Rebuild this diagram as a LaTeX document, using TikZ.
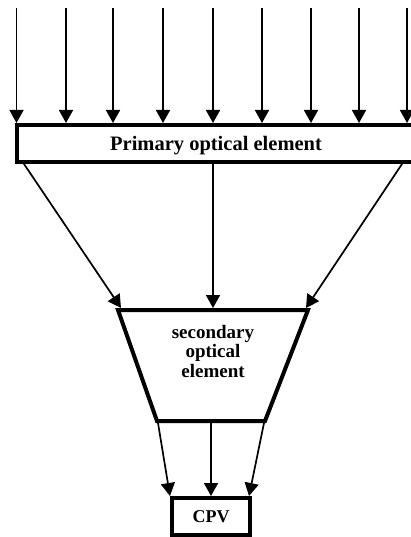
\documentclass[tikz,border=0pt]{standalone}
\usepackage{fontspec}
\setmainfont{Liberation Serif}
\usetikzlibrary{arrows.meta}
\begin{document}
\begin{tikzpicture}[x=1pt,y=-1pt,
  arr/.style={line width=1.7pt,-{Triangle[length=13pt,width=14pt]}},
  thickbox/.style={draw,line width=4pt,fill=white,inner sep=0pt},
  lbl/.style={font=\bfseries\fontsize{19}{19.5}\selectfont,align=center}]
\useasboundingbox (0,0) rectangle (411,537);
% primary element
\node[thickbox,minimum width=402pt,minimum height=37pt,anchor=north west] (pri) at (15,123) {};
\node[font=\bfseries\fontsize{20.5}{22}\selectfont] (pritext) at (216,146) {Primary optical element};
% incoming rays
\foreach \x [count=\i] in {16.5,66,113,163,213,262,311,359,407}{
  \coordinate (t\i) at (\x,8);
  \draw[arr] (t\i) -- (t\i |- pri.north);
}
% secondary element
\coordinate (sTL) at (118,310);
\coordinate (sTR) at (308,310);
\coordinate (sBR) at (265,421);
\coordinate (sBL) at (157,421);
\draw[line width=4pt,line join=miter] (sTL) -- (sTR) -- (sBR) -- (sBL) -- cycle;
\node[lbl] (sec) at (213,351) {secondary\\optical\\element};
% rays from primary to secondary
\coordinate (p1) at (22,161);
\coordinate (p2) at (213,161);
\coordinate (p3) at (404,161);
\coordinate (q1) at (121,308);
\coordinate (q2) at (213,308);
\coordinate (q3) at (306,308);
\draw[arr] (p1) -- (q1);
\draw[arr] (p2) -- (q2);
\draw[arr] (p3) -- (q3);
% CPV
\node[thickbox,minimum width=78pt,minimum height=37pt,font=\bfseries\fontsize{18}{19}\selectfont] (cpv) at (211,516.5) {CPV};
\coordinate (b1) at (158,423);
\coordinate (b2) at (211,423);
\coordinate (b3) at (264,423);
\draw[arr] (b1) -- (cpv.north -| 170,0);
\draw[arr] (b2) -- (cpv.north);
\draw[arr] (b3) -- (cpv.north -| 249,0);
\end{tikzpicture}
\end{document}
